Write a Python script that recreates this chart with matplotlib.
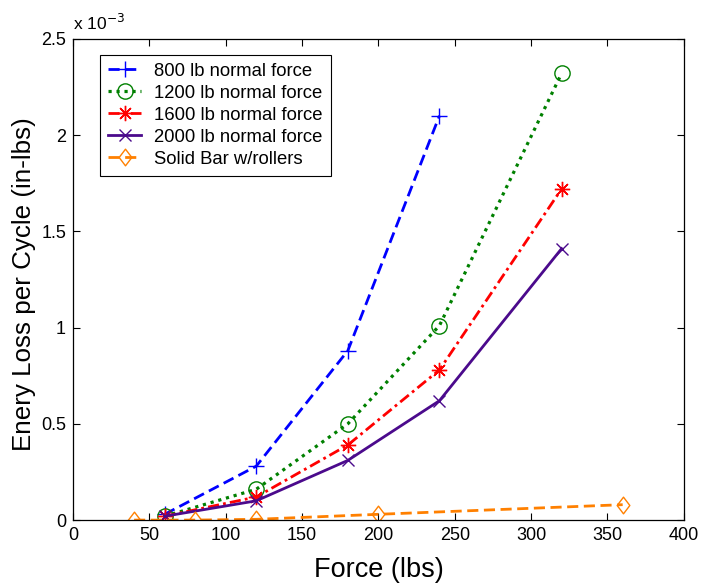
import matplotlib
matplotlib.use("Agg")
import matplotlib.pyplot as plt
from matplotlib.ticker import FuncFormatter
from matplotlib.path import Path

plt.rcParams['font.family'] = ['Liberation Sans', 'DejaVu Sans']

force_main = [60, 120, 180, 240, 320]
force_800 = [60, 120, 180, 240]
loss_800 = [0.03, 0.28, 0.88, 2.10]
loss_1200 = [0.02, 0.16, 0.50, 1.01, 2.32]
loss_1600 = [0.02, 0.12, 0.39, 0.78, 1.72]
loss_2000 = [0.02, 0.10, 0.31, 0.62, 1.41]
force_bar = [40, 80, 120, 200, 360]
loss_bar = [0.0, 0.0, 0.004, 0.03, 0.08]

labels = ["800 lb normal force", "1200 lb normal force", "1600 lb normal force",
          "2000 lb normal force", "Solid Bar w/rollers"]

diamond = Path([(0, 1), (0.76, 0), (0, -1), (-0.76, 0), (0, 1)],
               [Path.MOVETO, Path.LINETO, Path.LINETO, Path.LINETO, Path.CLOSEPOLY])

fig = plt.figure(figsize=(7.02, 5.87), dpi=100)
ax = fig.add_axes([0.104, 0.114, 0.870, 0.820])

lw = 2.0
ax.plot(force_800, loss_800, color='#0000ff', ls=(0, (4, 2)), lw=lw, marker='+', ms=11, mew=1.0, label=labels[0])
ax.plot(force_main, loss_1200, color='#008000', ls=(0, (1, 1.5)), lw=lw + 0.3, marker='o', ms=11, mfc='none', mew=1.0, label=labels[1])
ax.plot(force_main, loss_1600, color='#ff0000', ls=(0, (4, 1.5, 1, 1.5)), lw=lw, marker=(8, 2, 0), ms=11, mew=1.0, label=labels[2])
ax.plot(force_main, loss_2000, color='#4b0a8c', ls='-', lw=lw, marker='x', ms=8, mew=1.0, label=labels[3])
ax.plot(force_bar, loss_bar, color='#ff8000', ls=(0, (4, 2)), lw=lw, marker=diamond, ms=12, mfc='none', mew=1.0, label=labels[4])

ax.set_xlim(0, 400)
ax.set_ylim(0, 2.5)
ax.set_xticks(range(0, 401, 50))
ax.set_yticks([0, 0.5, 1, 1.5, 2, 2.5])
ax.yaxis.set_major_formatter(FuncFormatter(lambda v, p: f"{v:g}"))
ax.tick_params(direction='in', top=True, right=True, labelsize=13, length=5, width=0.8, pad=5)
for s in ax.spines.values():
    s.set_linewidth(0.9)

ax.set_xlabel("Force (lbs)", fontsize=19.5, labelpad=9)
ax.set_ylabel("Enery Loss per Cycle (in-lbs)", fontsize=18.7)
ax.yaxis.set_label_coords(-0.061, 0.49)
ax.text(0.0, 1.012, r"x 10$^{-3}$", transform=ax.transAxes, fontsize=12.5, ha='left', va='bottom')

leg = ax.legend(loc='upper left', bbox_to_anchor=(0.044, 0.967), borderaxespad=0, fontsize=13.3,
                frameon=True, fancybox=False, edgecolor='black', framealpha=1,
                handlelength=1.8, handletextpad=0.7, borderpad=0.45, labelspacing=0.27)
leg.get_frame().set_linewidth(0.8)

fig.savefig("out.png", dpi=100)
